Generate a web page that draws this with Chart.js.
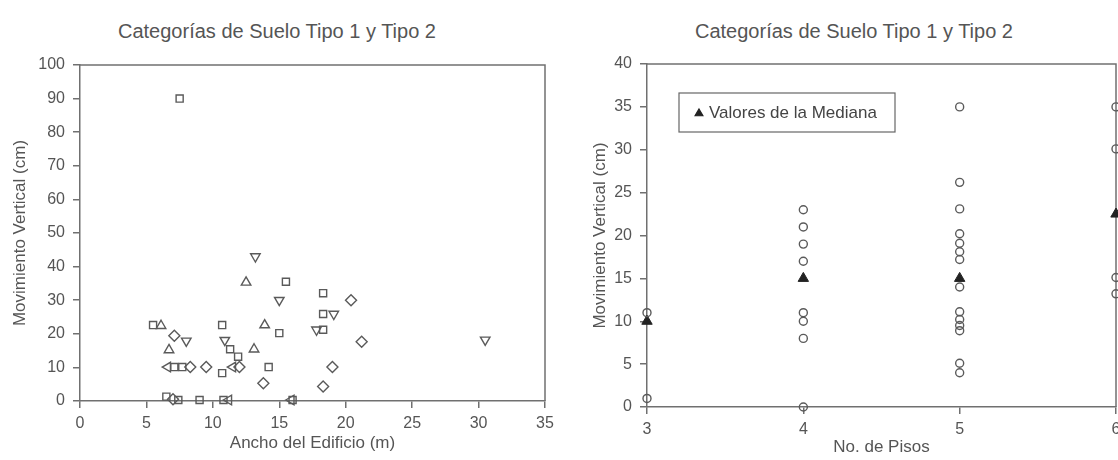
<!DOCTYPE html>
<html lang="es">
<head>
<meta charset="UTF-8">
<title>Categorías de Suelo Tipo 1 y Tipo 2</title>
<script src="https://cdn.jsdelivr.net/npm/chart.js"></script>
<style>
  body { margin: 0; background: #fff; width: 1118px; height: 460px; overflow: hidden; position: relative;
         font-family: "Liberation Sans", Arial, sans-serif; }
  .titulo { position: absolute; top: 20px; font-size: 20px; color: #555; white-space: nowrap; }
  .caja { position: absolute; top: 0; height: 460px; }
  canvas { display: block; }
</style>
</head>
<body>
<div class="titulo" style="left:118px">Categorías de Suelo Tipo 1 y Tipo 2</div>
<div class="titulo" style="left:695px">Categorías de Suelo Tipo 1 y Tipo 2</div>
<div class="caja" style="left:0; width:560px"><canvas id="ancho"></canvas></div>
<div class="caja" style="left:560px; width:558px"><canvas id="pisos"></canvas></div>
<script>
// --- grafico 1: ancho del edificio (m) vs movimiento vertical (cm), por forma de marcador
const cuadradosX = [5.5, 15.0, 10.7, 6.5, 9.0, 10.8, 18.3, 10.7, 15.5, 7.5, 14.2, 11.3, 7.1, 7.7, 18.3, 18.3, 11.9, 16.0, 7.4];
const cuadradosY = [22.6, 20.2, 8.3, 1.3, 0.3, 0.3, 25.9, 22.6, 35.5, 90, 10.1, 15.4, 10.1, 10.1, 21.2, 32.1, 13.2, 0.3, 0.3];
const rombosX = [20.4, 7.1, 21.2, 8.3, 9.5, 12.0, 19.0, 13.8, 18.3, 7.0];
const rombosY = [30, 19.4, 17.6, 10.1, 10.1, 10.1, 10.1, 5.3, 4.3, 0.5];
const triangulosX = [12.5, 6.1, 13.9, 6.7, 13.1];
const triangulosY = [35.3, 22.4, 22.6, 15.2, 15.4];
const invertidosX = [13.2, 15.0, 19.1, 17.8, 8.0, 10.9, 30.5];
const invertidosY = [43, 30, 25.9, 21.2, 17.9, 18.1, 18.2];
const izquierdaX = [6.6, 11.5, 11.2, 15.9];
const izquierdaY = [10.1, 10.1, 0.3, 0.3];
const ticksAncho = [0, 5, 10, 15, 20, 25, 30, 35];

// --- grafico 2: no. de pisos vs movimiento vertical (cm)
const pisos = [3, 4, 5, 6];
const movPisos3 = [11, 1];
const movPisos4 = [23, 21, 19, 17, 11, 10, 8, 0];
const movPisos5 = [35, 26.2, 23.1, 20.2, 19.1, 18.1, 17.2, 14, 11.1, 10.2, 9.5, 8.9, 5.1, 4];
const movPisos6 = [35, 30.1, 15.1, 13.2];
const medianas = [10, 15, 15, 22.5];

const GRIS = '#555';
const LINEA = '#707070';
const fuente = '"Liberation Sans", Arial, sans-serif';

const pares = (xs, ys) => xs.map((x, i) => ({ x: x, y: ys[i] }));

// marco superior y derecho del area de trazado
const marco = {
  id: 'marco',
  beforeDatasetsDraw(chart) {
    const { ctx, chartArea: a } = chart;
    ctx.save();
    ctx.strokeStyle = LINEA;
    ctx.lineWidth = 1.5;
    ctx.beginPath();
    ctx.moveTo(a.left, a.top);
    ctx.lineTo(a.right, a.top);
    ctx.lineTo(a.right, a.bottom);
    ctx.stroke();
    ctx.restore();
  }
};

// recuadro de leyenda dentro del area (solo la serie de medianas)
const leyenda = {
  id: 'leyenda',
  afterDraw(chart) {
    const { ctx, chartArea: a } = chart;
    const ds = chart.data.datasets.find(d => d.enLeyenda);
    const x = a.left + 32, y = a.top + 29, w = 216, h = 39;
    ctx.save();
    ctx.strokeStyle = '#666';
    ctx.lineWidth = 1.2;
    ctx.strokeRect(x, y, w, h);
    ctx.fillStyle = '#222';
    ctx.strokeStyle = '#222';
    Chart.helpers.drawPoint(ctx, { pointStyle: 'triangle', radius: 4.5, borderWidth: 1 }, x + 20, y + h / 2 + 1);
    ctx.fillStyle = '#444';
    ctx.font = '17px ' + fuente;
    ctx.textBaseline = 'middle';
    ctx.fillText(ds.label, x + 30, y + h / 2 + 1);
    ctx.restore();
  }
};

function ejeY(min, max, paso, ancho, titPad) {
  return {
    min: min, max: max,
    afterFit: s => { s.width = ancho; },
    ticks: { stepSize: paso, color: GRIS, padding: 8, font: { family: fuente, size: 16 } },
    grid: { drawOnChartArea: false, color: LINEA, tickLength: 7, lineWidth: 1.5 },
    border: { color: LINEA, width: 1.5 },
    title: { display: true, text: 'Movimiento Vertical (cm)', color: GRIS,
             font: { family: fuente, size: 17 }, padding: { top: titPad, bottom: 0 } }
  };
}

function ejeX(min, max, alto, texto, titPad, valores) {
  return {
    type: 'linear', min: min, max: max,
    // altura fija y sin margen extra para la ultima etiqueta (puede quedar cortada)
    afterFit: s => { s.height = alto; s.paddingLeft = 0; s.paddingRight = 0; },
    afterBuildTicks: s => { s.ticks = valores.map(v => ({ value: v })); },
    ticks: { color: GRIS, padding: 6, font: { family: fuente, size: 16 } },
    grid: { drawOnChartArea: false, color: LINEA, tickLength: 7, lineWidth: 1.5 },
    border: { color: LINEA, width: 1.5 },
    title: { display: true, text: texto, color: GRIS,
             font: { family: fuente, size: 17 }, padding: { top: 0, bottom: titPad } }
  };
}

function serie(datos, estilo, rot, radio) {
  return {
    data: datos, pointStyle: estilo, rotation: rot, pointRadius: radio,
    borderColor: '#5a5a5a', backgroundColor: 'rgba(0,0,0,0)', pointBorderWidth: 1.4,
    showLine: false, clip: false
  };
}

new Chart(document.getElementById('ancho'), {
  type: 'scatter',
  data: {
    datasets: [
      serie(pares(cuadradosX, cuadradosY), 'rect', 0, 5),
      serie(pares(rombosX, rombosY), 'rectRot', 0, 5.5),
      serie(pares(triangulosX, triangulosY), 'triangle', 0, 5.5),
      serie(pares(invertidosX, invertidosY), 'triangle', 180, 5.5),
      serie(pares(izquierdaX, izquierdaY), 'triangle', -90, 5.5)
    ]
  },
  options: {
    responsive: true, maintainAspectRatio: false, animation: false,
    layout: { autoPadding: false, padding: { top: 65, right: 15, left: 0, bottom: 0 } },
    plugins: { legend: { display: false }, tooltip: { enabled: false } },
    scales: {
      x: ejeX(0, 35, 59, 'Ancho del Edificio (m)', 6, ticksAncho),
      y: ejeY(0, 100, 10, 80, 10)
    }
  },
  plugins: [marco]
});

new Chart(document.getElementById('pisos'), {
  type: 'scatter',
  data: {
    datasets: [
      serie(pares([3, 3], movPisos3), 'circle', 0, 4),
      serie(movPisos4.map(v => ({ x: 4, y: v })), 'circle', 0, 4),
      serie(movPisos5.map(v => ({ x: 5, y: v })), 'circle', 0, 4),
      serie(movPisos6.map(v => ({ x: 6, y: v })), 'circle', 0, 4),
      {
        label: 'Valores de la Mediana', enLeyenda: true,
        data: pares(pisos, medianas), pointStyle: 'triangle', pointRadius: 6,
        backgroundColor: '#222', borderColor: '#222', pointBorderWidth: 1, showLine: false, clip: false
      }
    ]
  },
  options: {
    responsive: true, maintainAspectRatio: false, animation: false,
    layout: { autoPadding: false, padding: { top: 64, right: 2, left: 0, bottom: 0 } },
    plugins: { legend: { display: false }, tooltip: { enabled: false } },
    scales: {
      x: ejeX(3, 6, 53, 'No. de Pisos', 2, pisos),
      y: ejeY(0, 40, 5, 87, 30)
    }
  },
  plugins: [marco, leyenda]
});
</script>
</body>
</html>
